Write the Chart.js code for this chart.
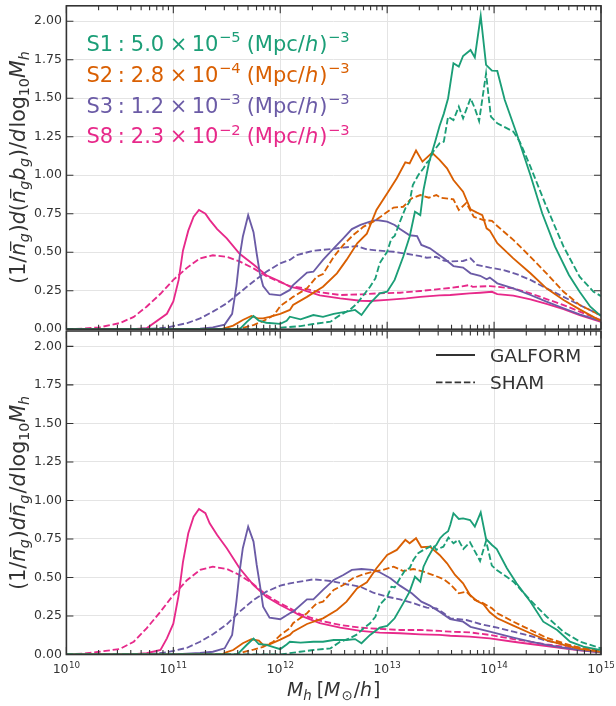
<!DOCTYPE html>
<html><head><meta charset="utf-8">
<script src="https://cdn.jsdelivr.net/npm/chart.js@4.4.0/dist/chart.umd.min.js"></script>
<style>
html,body{margin:0;padding:0;background:#fff;}
#wrap{position:relative;width:616px;height:706px;overflow:hidden;background:#fff;}
canvas{position:absolute;left:0;}
</style></head><body>
<div id="wrap">
<canvas id="cTop" width="616" height="345" style="top:0px"></canvas>
<canvas id="cBot" width="616" height="376" style="top:330px"></canvas>
</div>
<script>
// ---------------- DATA ----------------
const samples = ['S1','S2','S3','S8'];
const densityMantissa = ['5.0','2.8','1.2','2.3'];
const densityExponent = ['\u22125','\u22124','\u22123','\u22122'];
const massExponents = ['10','11','12','13','14','15'];
const modelNames = ['GALFORM','SHAM'];

// top panel: (1/n) d(n b)/dlog10 Mh ; pairs [log10 Mh, value]
const bias_S1_gal = [[10.0,0],[11.62,0],[11.69,0.049],[11.75,0.086],[11.80,0.055],[11.87,0.042],[12.0,0.035],[12.06,0.055],[12.09,0.081],[12.19,0.064],[12.31,0.092],[12.40,0.08],[12.50,0.10],[12.62,0.114],[12.70,0.125],[12.76,0.092],[12.84,0.168],[12.93,0.233],[13.0,0.243],[13.07,0.32],[13.15,0.47],[13.21,0.60],[13.26,0.763],[13.31,0.741],[13.34,0.904],[13.39,1.077],[13.45,1.22],[13.49,1.32],[13.53,1.40],[13.57,1.50],[13.62,1.727],[13.67,1.705],[13.71,1.774],[13.78,1.813],[13.82,1.765],[13.875,2.034],[13.925,1.716],[13.98,1.679],[14.03,1.677],[14.10,1.488],[14.21,1.272],[14.34,1.0],[14.45,0.753],[14.57,0.536],[14.70,0.352],[14.80,0.243],[14.90,0.146],[15.0,0.085]];
const bias_S1_sham = [[10.0,0],[11.95,0],[12.0,0.01],[12.19,0.02],[12.31,0.034],[12.47,0.049],[12.56,0.092],[12.65,0.125],[12.72,0.168],[12.78,0.222],[12.84,0.276],[12.89,0.33],[12.93,0.428],[13.0,0.503],[13.04,0.59],[13.07,0.605],[13.12,0.698],[13.17,0.785],[13.21,0.828],[13.24,0.936],[13.29,1.0],[13.34,1.045],[13.37,1.081],[13.40,1.10],[13.43,1.153],[13.49,1.207],[13.53,1.218],[13.57,1.38],[13.62,1.358],[13.67,1.445],[13.71,1.369],[13.78,1.50],[13.82,1.434],[13.86,1.352],[13.925,1.66],[13.97,1.38],[14.03,1.337],[14.18,1.283],[14.24,1.218],[14.34,1.055],[14.49,0.795],[14.65,0.536],[14.80,0.341],[14.93,0.243],[15.0,0.215]];
const bias_S2_gal = [[10.0,0],[11.45,0],[11.56,0.023],[11.65,0.06],[11.73,0.086],[11.79,0.07],[11.84,0.07],[11.90,0.08],[12.0,0.10],[12.09,0.125],[12.12,0.157],[12.25,0.21],[12.40,0.276],[12.53,0.363],[12.62,0.45],[12.72,0.558],[12.81,0.62],[12.90,0.774],[13.01,0.893],[13.09,0.98],[13.17,1.083],[13.21,1.077],[13.27,1.16],[13.33,1.088],[13.42,1.146],[13.49,1.10],[13.56,1.045],[13.62,0.969],[13.71,0.893],[13.78,0.778],[13.84,0.757],[13.89,0.741],[13.93,0.655],[13.96,0.64],[14.03,0.558],[14.18,0.46],[14.34,0.363],[14.49,0.265],[14.65,0.19],[14.80,0.129],[14.97,0.064],[15.0,0.058]];
const bias_S2_sham = [[10.0,0],[11.6,0],[11.75,0.027],[11.84,0.053],[11.94,0.09],[12.0,0.15],[12.12,0.21],[12.25,0.265],[12.34,0.34],[12.40,0.358],[12.50,0.47],[12.59,0.547],[12.68,0.61],[12.78,0.666],[12.87,0.698],[12.96,0.741],[13.06,0.79],[13.15,0.795],[13.23,0.85],[13.31,0.871],[13.39,0.854],[13.46,0.871],[13.50,0.854],[13.62,0.843],[13.67,0.774],[13.74,0.82],[13.81,0.73],[13.90,0.709],[13.98,0.704],[14.03,0.67],[14.18,0.58],[14.34,0.47],[14.49,0.363],[14.65,0.243],[14.80,0.157],[14.96,0.103],[15.0,0.09]];
const bias_S3_gal = [[10.0,0],[11.0,0],[11.25,0.003],[11.37,0.012],[11.48,0.03],[11.55,0.10],[11.59,0.28],[11.62,0.47],[11.65,0.60],[11.70,0.74],[11.75,0.63],[11.78,0.49],[11.81,0.36],[11.84,0.28],[11.90,0.227],[12.0,0.22],[12.09,0.255],[12.12,0.287],[12.25,0.367],[12.31,0.373],[12.40,0.45],[12.50,0.525],[12.59,0.59],[12.67,0.65],[12.75,0.677],[12.84,0.698],[12.90,0.709],[13.0,0.698],[13.07,0.677],[13.12,0.65],[13.21,0.61],[13.28,0.605],[13.32,0.547],[13.40,0.525],[13.49,0.48],[13.53,0.46],[13.62,0.41],[13.71,0.40],[13.78,0.363],[13.87,0.347],[13.93,0.324],[13.96,0.335],[14.03,0.298],[14.18,0.265],[14.34,0.222],[14.49,0.179],[14.65,0.136],[14.80,0.097],[15.0,0.052]];
const bias_S3_sham = [[10.0,0],[10.8,0.003],[10.94,0.01],[11.0,0.02],[11.13,0.04],[11.25,0.07],[11.37,0.114],[11.50,0.168],[11.62,0.237],[11.75,0.31],[11.87,0.373],[12.0,0.428],[12.09,0.45],[12.15,0.48],[12.31,0.51],[12.47,0.52],[12.59,0.53],[12.72,0.54],[12.81,0.518],[12.93,0.51],[13.06,0.503],[13.18,0.49],[13.31,0.475],[13.37,0.464],[13.46,0.47],[13.53,0.445],[13.59,0.44],[13.71,0.443],[13.78,0.46],[13.84,0.417],[13.96,0.40],[14.09,0.384],[14.21,0.358],[14.34,0.32],[14.49,0.265],[14.65,0.21],[14.80,0.157],[15.0,0.09]];
const bias_S8_gal = [[10.0,0],[10.65,0.002],[10.75,0.006],[10.94,0.10],[11.0,0.18],[11.05,0.32],[11.09,0.51],[11.14,0.64],[11.19,0.73],[11.24,0.775],[11.30,0.75],[11.34,0.71],[11.41,0.65],[11.50,0.59],[11.62,0.49],[11.75,0.42],[11.87,0.35],[12.0,0.31],[12.09,0.276],[12.19,0.26],[12.37,0.22],[12.56,0.20],[12.75,0.185],[12.84,0.183],[13.0,0.19],[13.18,0.20],[13.31,0.21],[13.49,0.22],[13.59,0.222],[13.77,0.233],[13.87,0.237],[13.98,0.243],[14.03,0.228],[14.18,0.218],[14.34,0.194],[14.49,0.164],[14.65,0.131],[14.80,0.092],[15.0,0.048]];
const bias_S8_sham = [[10.0,0],[10.15,0.004],[10.31,0.012],[10.50,0.04],[10.63,0.08],[10.75,0.146],[10.88,0.23],[11.0,0.32],[11.13,0.40],[11.25,0.46],[11.37,0.48],[11.50,0.47],[11.62,0.44],[11.75,0.395],[11.87,0.345],[12.0,0.305],[12.09,0.28],[12.19,0.27],[12.37,0.24],[12.56,0.222],[12.75,0.226],[12.93,0.233],[13.12,0.237],[13.31,0.248],[13.46,0.259],[13.59,0.268],[13.70,0.278],[13.77,0.287],[13.80,0.275],[13.96,0.28],[14.18,0.265],[14.34,0.233],[14.49,0.196],[14.65,0.157],[14.80,0.114],[15.0,0.058]];

// bottom panel: (1/n) dn/dlog10 Mh
const hod_S1_gal = [[10.0,0],[11.6,0],[11.62,0.016],[11.69,0.065],[11.75,0.104],[11.80,0.068],[11.87,0.062],[12.0,0.035],[12.06,0.065],[12.09,0.083],[12.19,0.077],[12.31,0.083],[12.40,0.083],[12.50,0.094],[12.62,0.094],[12.70,0.10],[12.76,0.073],[12.84,0.127],[12.93,0.174],[13.0,0.185],[13.07,0.235],[13.15,0.332],[13.21,0.408],[13.26,0.505],[13.31,0.473],[13.34,0.57],[13.385,0.635],[13.43,0.69],[13.46,0.711],[13.495,0.755],[13.53,0.78],[13.57,0.80],[13.59,0.84],[13.62,0.917],[13.67,0.88],[13.71,0.884],[13.775,0.873],[13.82,0.83],[13.875,0.923],[13.925,0.75],[13.98,0.711],[14.025,0.685],[14.12,0.56],[14.21,0.462],[14.34,0.343],[14.46,0.213],[14.59,0.159],[14.71,0.083],[14.835,0.051],[15.0,0.028]];
const hod_S1_sham = [[10.0,0],[12.0,0],[12.185,0.018],[12.31,0.029],[12.47,0.04],[12.56,0.083],[12.65,0.105],[12.72,0.131],[12.78,0.17],[12.84,0.203],[12.89,0.245],[12.93,0.321],[13.0,0.375],[13.04,0.44],[13.07,0.435],[13.12,0.495],[13.17,0.549],[13.21,0.56],[13.245,0.614],[13.29,0.657],[13.34,0.679],[13.40,0.70],[13.43,0.711],[13.46,0.68],[13.526,0.70],[13.573,0.759],[13.62,0.722],[13.666,0.744],[13.713,0.685],[13.775,0.729],[13.822,0.668],[13.869,0.607],[13.925,0.737],[13.979,0.577],[14.025,0.549],[14.181,0.473],[14.337,0.354],[14.493,0.245],[14.648,0.148],[14.804,0.083],[15.0,0.04]];
const hod_S2_gal = [[10.0,0],[11.45,0],[11.50,0.015],[11.56,0.029],[11.65,0.073],[11.73,0.099],[11.80,0.09],[11.84,0.062],[11.90,0.066],[12.0,0.097],[12.09,0.127],[12.12,0.148],[12.25,0.198],[12.40,0.235],[12.53,0.289],[12.62,0.343],[12.72,0.43],[12.81,0.469],[12.90,0.56],[13.0,0.646],[13.09,0.679],[13.17,0.744],[13.21,0.722],[13.27,0.755],[13.32,0.696],[13.40,0.70],[13.49,0.646],[13.56,0.592],[13.635,0.516],[13.71,0.462],[13.775,0.386],[13.84,0.347],[13.90,0.326],[13.96,0.274],[14.03,0.235],[14.18,0.187],[14.34,0.138],[14.49,0.094],[14.65,0.062],[14.80,0.036],[15.0,0.018]];
const hod_S2_sham = [[10.0,0],[11.6,0],[11.655,0.016],[11.75,0.032],[11.84,0.05],[11.935,0.083],[12.01,0.131],[12.09,0.17],[12.12,0.203],[12.25,0.268],[12.34,0.332],[12.40,0.343],[12.50,0.419],[12.59,0.451],[12.68,0.495],[12.78,0.521],[12.87,0.538],[12.96,0.549],[13.06,0.57],[13.15,0.542],[13.245,0.555],[13.34,0.538],[13.43,0.516],[13.53,0.488],[13.59,0.456],[13.67,0.397],[13.74,0.408],[13.82,0.354],[13.90,0.332],[13.98,0.30],[14.03,0.268],[14.18,0.213],[14.34,0.159],[14.49,0.109],[14.65,0.073],[14.80,0.044],[15.0,0.023]];
const hod_S3_gal = [[10.0,0],[11.0,0],[11.25,0.01],[11.37,0.018],[11.48,0.04],[11.55,0.127],[11.59,0.343],[11.62,0.538],[11.65,0.69],[11.70,0.83],[11.75,0.733],[11.78,0.581],[11.81,0.451],[11.84,0.31],[11.90,0.239],[12.0,0.229],[12.09,0.268],[12.12,0.278],[12.25,0.358],[12.31,0.358],[12.40,0.419],[12.50,0.484],[12.59,0.516],[12.67,0.549],[12.76,0.555],[12.86,0.549],[12.93,0.534],[13.03,0.495],[13.12,0.447],[13.23,0.397],[13.32,0.343],[13.40,0.317],[13.49,0.278],[13.59,0.23],[13.71,0.213],[13.78,0.18],[13.96,0.148],[14.18,0.109],[14.34,0.083],[14.49,0.062],[14.65,0.044],[14.80,0.029],[15.0,0.014]];
const hod_S3_sham = [[10.0,0],[10.8,0.003],[10.94,0.015],[11.0,0.023],[11.13,0.044],[11.25,0.083],[11.37,0.131],[11.50,0.196],[11.62,0.278],[11.75,0.354],[11.87,0.408],[12.0,0.447],[12.09,0.462],[12.15,0.469],[12.31,0.488],[12.47,0.477],[12.62,0.456],[12.75,0.44],[12.87,0.401],[13.0,0.375],[13.12,0.358],[13.25,0.332],[13.37,0.304],[13.46,0.30],[13.53,0.268],[13.59,0.235],[13.74,0.224],[13.87,0.198],[14.03,0.174],[14.18,0.148],[14.34,0.12],[14.49,0.09],[14.65,0.066],[14.80,0.044],[15.0,0.023]];
const hod_S8_gal = [[10.0,0],[10.6,0],[10.75,0.008],[10.88,0.03],[10.94,0.105],[11.0,0.20],[11.05,0.386],[11.09,0.60],[11.14,0.787],[11.19,0.895],[11.24,0.945],[11.30,0.917],[11.34,0.852],[11.41,0.776],[11.50,0.69],[11.62,0.56],[11.75,0.45],[11.87,0.375],[12.0,0.321],[12.09,0.289],[12.19,0.252],[12.37,0.203],[12.56,0.174],[12.75,0.153],[12.93,0.142],[13.12,0.138],[13.31,0.131],[13.49,0.127],[13.59,0.122],[13.77,0.116],[13.96,0.105],[14.18,0.083],[14.34,0.068],[14.49,0.055],[14.65,0.04],[14.80,0.027],[15.0,0.014]];
const hod_S8_sham = [[10.0,0],[10.15,0.006],[10.31,0.018],[10.50,0.036],[10.63,0.083],[10.75,0.17],[10.88,0.278],[11.0,0.386],[11.13,0.484],[11.25,0.549],[11.37,0.57],[11.50,0.555],[11.62,0.516],[11.75,0.456],[11.87,0.386],[12.0,0.332],[12.09,0.30],[12.19,0.261],[12.37,0.22],[12.56,0.192],[12.75,0.174],[12.93,0.166],[13.12,0.159],[13.31,0.159],[13.49,0.153],[13.59,0.148],[13.77,0.144],[13.96,0.127],[14.18,0.10],[14.34,0.083],[14.49,0.066],[14.65,0.051],[14.80,0.034],[15.0,0.018]];

// ---------------- STYLE ----------------
const COLORS = {S1:'#1b9e77', S2:'#d95f02', S3:'#6b5ba6', S8:'#e7298a'};
const FAM = '"DejaVu Sans"';
const DASH = [6.5, 2.8];
const INK = '#333333';
const GRID = '#e4e4e4';
const LW = 1.85;
const TITLE_SIZE = 20.5;

function pts(arr){ return arr.map(p => ({x:p[0], y:p[1]})); }
function makeSets(list){
  const out = [];
  list.forEach(([name, gal, sham]) => {
    out.push({label:name+' GALFORM', data:pts(gal), borderColor:COLORS[name], borderWidth:LW, pointRadius:0, tension:0, fill:false});
    out.push({label:name+' SHAM', data:pts(sham), borderColor:COLORS[name], borderWidth:LW, borderDash:DASH, pointRadius:0, tension:0, fill:false});
  });
  return out;
}

// rich text helpers
function fnt(size, it){ return (it?'italic ':'') + size + 'px ' + FAM; }
function layout(ctx, segs, size){
  let x = 0; const items = [];
  for (const s of segs){
    x += (s.gap||0);
    const fs = (s.sub||s.sup) ? size*0.7 : size;
    ctx.font = fnt(fs, s.i);
    const w = ctx.measureText(s.t).width;
    const dy = s.sub ? size*0.2 : (s.sup ? -size*0.42 : 0);
    items.push({t:s.t, x, dy, fs, i:s.i, w, bar:s.bar});
    x += w;
  }
  return {w:x, items};
}
function drawRich(ctx, segs, x, y, size, color, align){
  const L = layout(ctx, segs, size);
  const x0 = align==='center' ? x - L.w/2 : (align==='right' ? x - L.w : x);
  ctx.fillStyle = color; ctx.textAlign = 'left'; ctx.textBaseline = 'alphabetic';
  for (const it of L.items){
    ctx.font = fnt(it.fs, it.i);
    ctx.fillText(it.t, x0+it.x, y+it.dy);
    if (it.bar){
      ctx.save(); ctx.strokeStyle = color; ctx.lineWidth = Math.max(1, size*0.065);
      const by = y + it.dy - size*0.70;
      const sk = size*0.12;
      ctx.beginPath(); ctx.moveTo(x0+it.x+it.w*0.18+sk, by); ctx.lineTo(x0+it.x+it.w*0.92+sk, by); ctx.stroke();
      ctx.restore();
    }
  }
}

function frameTicks(chart){
  const {ctx, chartArea:a, scales:{x, y}} = chart;
  ctx.save();
  ctx.strokeStyle = INK; ctx.lineWidth = 1.1;
  ctx.beginPath();
  x.ticks.forEach(t => {
    for (let k=1; k<10; k++){
      const v = t.value + Math.log10(k);
      if (v > x.max + 1e-9) break;
      const px = x.getPixelForValue(v);
      const len = k===1 ? 7.5 : 4.5;
      ctx.moveTo(px, a.bottom); ctx.lineTo(px, a.bottom-len);
      ctx.moveTo(px, a.top); ctx.lineTo(px, a.top+len);
    }
  });
  y.ticks.forEach(t => {
    const py = y.getPixelForValue(t.value);
    ctx.moveTo(a.left, py); ctx.lineTo(a.left+7, py);
    ctx.moveTo(a.right, py); ctx.lineTo(a.right-7, py);
  });
  ctx.stroke();
  ctx.lineWidth = 1.6;
  ctx.strokeRect(a.left, a.top, a.right-a.left, a.bottom-a.top);
  ctx.restore();
}

function yTitle(ctx, segs, cx, cy){
  ctx.save(); ctx.translate(cx, cy); ctx.rotate(-Math.PI/2);
  drawRich(ctx, segs, 0, 0, TITLE_SIZE, INK, 'center');
  ctx.restore();
}

const titleTop = [{t:'(1/'},{t:'n',i:1,bar:1},{t:'g',i:1,sub:1,gap:0.5},{t:')',gap:1},{t:'d',i:1},{t:'('},{t:'n',i:1,bar:1},{t:'g',i:1,sub:1,gap:0.5},{t:'b',i:1},{t:'g',i:1,sub:1,gap:0.5},{t:')/',gap:1},{t:'d',i:1},{t:'log',gap:1.5},{t:'10',sub:1},{t:'M',i:1},{t:'h',i:1,sub:1}];
const titleBot = [{t:'(1/'},{t:'n',i:1,bar:1},{t:'g',i:1,sub:1,gap:0.5},{t:')',gap:1},{t:'d',i:1},{t:'n',i:1,bar:1},{t:'g',i:1,sub:1,gap:0.5},{t:'/',gap:1},{t:'d',i:1},{t:'log',gap:1.5},{t:'10',sub:1},{t:'M',i:1},{t:'h',i:1,sub:1}];
const titleX = [{t:'M',i:1},{t:'h',i:1,sub:1},{t:'[',gap:5},{t:'M',i:1},{t:'\u2299',sub:1,gap:1},{t:'/',gap:1},{t:'h',i:1},{t:']',gap:1}];

function baseOptions(isTop){
  return {
    responsive:false, animation:false, devicePixelRatio:1,
    layout:{padding: isTop ? {left:0, right:15, top:5.8, bottom:15.8} : {left:0, right:15, top:1, bottom:0}},
    plugins:{legend:{display:false}, tooltip:{enabled:false}},
    scales:{
      x:{type:'linear', min:10, max:15,
         ticks:{display:false, stepSize:1},
         grid:{color:GRID, lineWidth:1, drawTicks:false},
         border:{display:false},
         afterFit:s => { s.height = isTop ? 0 : 51.5; s.paddingLeft = 0; s.paddingRight = 0; }},
      y:{type:'linear', min:0, max:2.1,
         ticks:{stepSize:0.25, includeBounds:false, padding:4.5, color:INK,
                font:{family:'DejaVu Sans', size:12.5},
                callback:v => Number(v).toFixed(2)},
         grid:{color:GRID, lineWidth:1, drawTicks:false},
         border:{display:false},
         afterFit:s => { s.width = 66.4; s.paddingTop = 0; s.paddingBottom = 0; }}
    }
  };
}

new Chart(document.getElementById('cTop'), {
  type:'line',
  data:{datasets: makeSets([['S1',bias_S1_gal,bias_S1_sham],['S2',bias_S2_gal,bias_S2_sham],['S3',bias_S3_gal,bias_S3_sham],['S8',bias_S8_gal,bias_S8_sham]])},
  options: baseOptions(true),
  plugins:[{id:'decoTop', afterDraw(chart){
    const ctx = chart.ctx, a = chart.chartArea;
    frameTicks(chart);
    yTitle(ctx, titleTop, 25, (a.top+a.bottom)/2);
    samples.forEach((s, i) => {
      const segs = [{t:s},{t:':',gap:4.5},{t:densityMantissa[i],gap:6},{t:'\u00d7',gap:5.5},{t:'10',gap:4.5},{t:densityExponent[i],sup:1,gap:0.5},{t:'(Mpc/',gap:6},{t:'h',i:1},{t:')',gap:1},{t:'\u22123',sup:1,gap:0.5}];
      drawRich(ctx, segs, 86.5, 50.7 + i*30.9, 21, COLORS[s], 'left');
    });
  }}]
});

new Chart(document.getElementById('cBot'), {
  type:'line',
  data:{datasets: makeSets([['S1',hod_S1_gal,hod_S1_sham],['S2',hod_S2_gal,hod_S2_sham],['S3',hod_S3_gal,hod_S3_sham],['S8',hod_S8_gal,hod_S8_sham]])},
  options: baseOptions(false),
  plugins:[{id:'decoBot', afterDraw(chart){
    const ctx = chart.ctx, a = chart.chartArea, xs = chart.scales.x;
    frameTicks(chart);
    yTitle(ctx, titleBot, 25, (a.top+a.bottom)/2);
    xs.ticks.forEach((t, i) => {
      const px = xs.getPixelForValue(t.value);
      drawRich(ctx, [{t:'10'},{t:massExponents[i],sup:1,gap:0.5}], px, a.bottom+18.8, 12.5, INK, 'center');
    });
    drawRich(ctx, titleX, (a.left+a.right)/2, a.bottom+41.5, 19, INK, 'center');
    // line-style legend
    ctx.save();
    ctx.strokeStyle = INK; ctx.lineWidth = LW;
    ctx.beginPath(); ctx.moveTo(436, a.top+24); ctx.lineTo(475, a.top+24); ctx.stroke();
    ctx.setLineDash(DASH);
    ctx.beginPath(); ctx.moveTo(436, a.top+51.3); ctx.lineTo(475, a.top+51.3); ctx.stroke();
    ctx.restore();
    drawRich(ctx, [{t:modelNames[0]}], 490, a.top+30.7, 18.5, INK, 'left');
    drawRich(ctx, [{t:modelNames[1]}], 490, a.top+58, 18.5, INK, 'left');
  }}]
});
</script>
</body></html>
